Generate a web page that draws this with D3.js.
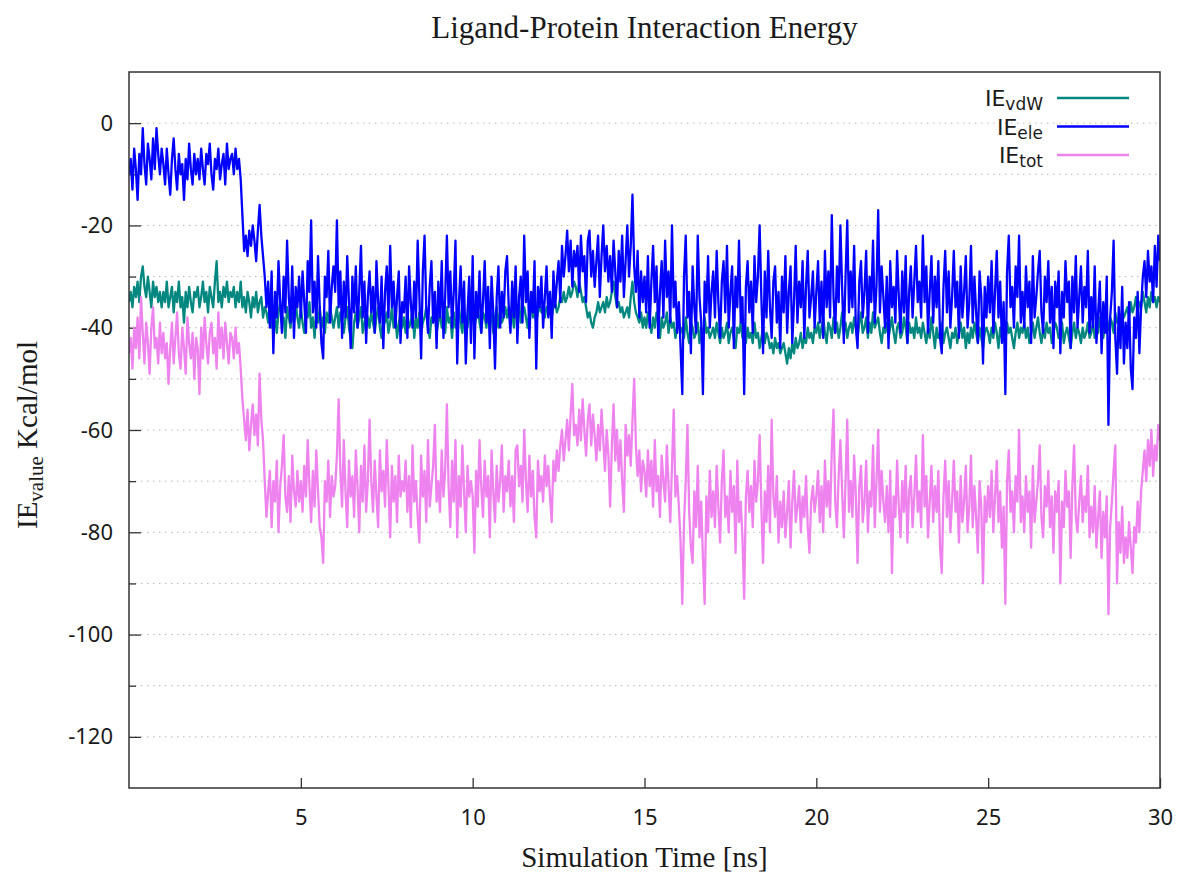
<!DOCTYPE html>
<html>
<head>
<meta charset="utf-8">
<script src="https://cdn.jsdelivr.net/npm/d3@7"></script>
<style>
  html, body { margin: 0; padding: 0; background: #fff; }
  svg { display: block; }
</style>
</head>
<body>
<svg id="chart" width="1178" height="879"></svg>
<script>
// ---- DATA (one row = 1 ns, step 0.05 ns) ----
const timeStepNs = 0.05;
const xTicks = [5, 10, 15, 20, 25, 30];
const yTicks = [0, -20, -40, -60, -80, -100, -120];
const yMinorTicks = [-10, -30, -50, -70, -90, -110];
const yGrid = [0, -10, -20, -30, -40, -50, -60, -70, -80, -90, -100, -110, -120];
const seriesNames = ["vdW", "ele", "tot"];

const ieVdw = [
-35,-33,-36,-32,-34,-31,-35,-30,-28,-32,-34,-30,-33,-36,-31,-34,-32,-35,-33,-36,
-33,-35,-31,-36,-34,-32,-37,-33,-35,-31,-36,-34,-39,-33,-36,-32,-35,-37,-33,-34,
-32,-36,-34,-31,-35,-33,-37,-32,-34,-36,-31,-27,-35,-33,-36,-32,-34,-31,-35,-33,
-34,-32,-36,-33,-35,-31,-36,-34,-37,-33,-35,-38,-34,-36,-33,-37,-35,-34,-38,-36,
-37,-39,-35,-40,-36,-38,-41,-37,-35,-39,-38,-42,-36,-38,-40,-37,-39,-35,-38,-40,
-36,-39,-41,-37,-38,-35,-40,-38,-42,-37,-39,-36,-40,-38,-41,-37,-39,-36,-38,-40,
-38,-36,-40,-37,-39,-41,-38,-36,-40,-42,-44,-39,-37,-40,-38,-36,-41,-39,-37,-38,
-40,-37,-39,-41,-38,-36,-40,-42,-38,-39,-37,-41,-39,-36,-40,-38,-42,-39,-37,-40,
-38,-41,-37,-40,-39,-36,-42,-38,-40,-37,-41,-39,-38,-36,-40,-42,-38,-39,-37,-41,
-39,-37,-40,-38,-41,-36,-39,-38,-42,-37,-40,-38,-36,-39,-41,-37,-38,-40,-36,-39,
-37,-40,-38,-36,-39,-41,-37,-38,-40,-36,-39,-37,-41,-38,-36,-40,-37,-39,-38,-36,
-38,-36,-39,-37,-40,-36,-38,-35,-39,-37,-36,-38,-40,-37,-35,-38,-36,-39,-37,-36,
-37,-35,-38,-36,-37,-34,-38,-36,-35,-37,-36,-34,-35,-33,-35,-34,-32,-34,-33,-31,
-32,-34,-31,-33,-35,-34,-36,-38,-37,-39,-40,-38,-37,-35,-37,-36,-35,-37,-34,-36,
-35,-33,-31,-34,-36,-35,-37,-36,-38,-37,-36,-38,-34,-31,-35,-37,-38,-39,-37,-40,
-38,-40,-37,-39,-41,-38,-40,-37,-39,-42,-38,-40,-39,-37,-41,-38,-40,-39,-42,-40,
-39,-41,-40,-42,-38,-41,-43,-39,-40,-42,-41,-39,-43,-40,-42,-38,-41,-40,-42,-41,
-40,-42,-39,-41,-43,-40,-42,-41,-39,-43,-41,-40,-42,-44,-40,-41,-39,-42,-41,-43,
-40,-42,-41,-43,-39,-42,-41,-44,-42,-40,-43,-41,-42,-44,-43,-45,-42,-44,-43,-45,
-44,-43,-45,-47,-44,-46,-43,-45,-42,-44,-43,-41,-44,-42,-43,-40,-42,-41,-43,-40,
-41,-39,-42,-40,-38,-41,-43,-39,-40,-42,-38,-41,-39,-42,-40,-37,-41,-39,-42,-40,
-39,-41,-38,-40,-42,-39,-37,-41,-40,-38,-42,-39,-41,-37,-40,-39,-38,-41,-43,-40,
-41,-39,-42,-40,-38,-41,-43,-40,-39,-42,-41,-38,-40,-43,-39,-41,-40,-42,-38,-41,
-40,-42,-39,-41,-43,-40,-42,-38,-41,-44,-40,-42,-41,-39,-43,-41,-40,-42,-44,-41,
-42,-40,-43,-41,-39,-42,-40,-44,-41,-43,-40,-42,-39,-41,-43,-40,-42,-44,-41,-40,
-41,-43,-40,-42,-39,-41,-44,-40,-42,-41,-43,-39,-41,-40,-42,-44,-41,-39,-42,-40,
-41,-39,-42,-40,-43,-41,-39,-42,-40,-38,-41,-43,-40,-42,-39,-41,-40,-43,-41,-39,
-40,-42,-41,-39,-43,-41,-40,-42,-44,-41,-39,-42,-40,-41,-43,-40,-42,-41,-39,-42,
-41,-39,-42,-40,-41,-38,-40,-42,-39,-41,-40,-38,-39,-41,-37,-39,-38,-40,-37,-38,
-37,-36,-38,-35,-37,-36,-34,-37,-35,-36,-33,-35,-37,-34,-36,-33,-35,-34,-36,-34,
-35];

const ieEle = [
-10,-7,-13,-5,-9,-15,-6,-10,-1,-8,-12,-4,-7,-11,-3,-9,-1,-6,-10,-5,
-8,-12,-5,-10,-14,-7,-3,-9,-13,-6,-10,-8,-15,-7,-11,-4,-9,-12,-6,-10,
-7,-11,-5,-9,-12,-6,-8,-4,-10,-13,-7,-9,-5,-11,-8,-6,-12,-4,-9,-7,
-6,-10,-5,-9,-7,-11,-18,-25,-22,-26,-21,-24,-20,-23,-27,-21,-16,-22,-26,-30,
-36,-31,-40,-29,-45,-33,-38,-27,-35,-41,-30,-37,-23,-34,-39,-28,-42,-32,-36,-30,
-38,-29,-35,-41,-27,-33,-19,-37,-31,-40,-26,-36,-43,-46,-30,-34,-25,-39,-32,-28,
-33,-19,-36,-29,-42,-31,-38,-26,-35,-44,-30,-37,-28,-40,-33,-24,-38,-31,-43,-34,
-29,-37,-32,-41,-27,-35,-39,-30,-44,-33,-28,-38,-24,-36,-31,-40,-34,-29,-43,-35,
-37,-30,-42,-28,-35,-40,-31,-38,-23,-34,-46,-29,-22,-36,-41,-32,-27,-39,-33,-44,
-31,-38,-27,-42,-34,-22,-36,-29,-40,-33,-23,-47,-35,-28,-39,-31,-47,-37,-30,-43,
-26,-46,-33,-38,-29,-41,-35,-27,-39,-32,-44,-30,-37,-48,-34,-28,-40,-33,-38,-29,
-26,-36,-41,-31,-38,-28,-43,-34,-30,-39,-22,-35,-29,-42,-33,-37,-27,-48,-32,-36,
-30,-40,-34,-28,-38,-33,-42,-29,-36,-31,-27,-35,-24,-30,-26,-21,-29,-23,-32,-25,
-28,-24,-33,-22,-29,-26,-35,-23,-21,-30,-25,-32,-27,-22,-34,-26,-20,-29,-24,-31,
-26,-33,-23,-29,-36,-25,-31,-22,-34,-27,-20,-30,-24,-14,-28,-33,-25,-38,-29,-35,
-30,-37,-26,-40,-31,-24,-35,-28,-42,-33,-27,-38,-23,-34,-29,-39,-20,-36,-31,-41,
-35,-44,-53,-30,-22,-38,-33,-45,-28,-36,-41,-22,-34,-39,-53,-31,-37,-26,-40,-33,
-29,-38,-25,-35,-42,-31,-27,-37,-24,-40,-33,-28,-44,-30,-36,-23,-39,-34,-53,-32,
-27,-37,-31,-41,-26,-35,-30,-20,-34,-45,-29,-38,-25,-36,-42,-31,-28,-39,-33,-44,
-30,-37,-26,-41,-33,-28,-43,-35,-24,-39,-31,-36,-27,-42,-32,-25,-38,-34,-29,-40,
-33,-27,-39,-31,-42,-25,-36,-29,-38,-18,-34,-41,-28,-35,-20,-32,-43,-30,-19,-37,
-29,-36,-24,-40,-44,-31,-27,-38,-33,-25,-41,-30,-35,-23,-39,-32,-17,-37,-28,-34,
-40,-30,-44,-27,-36,-32,-39,-25,-34,-41,-29,-37,-26,-43,-33,-28,-38,-31,-24,-35,
-31,-38,-22,-35,-28,-41,-33,-26,-39,-30,-36,-27,-42,-45,-32,-25,-37,-29,-40,-34,
-25,-36,-31,-42,-28,-38,-33,-26,-40,-35,-24,-39,-30,-37,-43,-29,-34,-47,-32,-38,
-30,-37,-27,-41,-33,-25,-38,-31,-43,-35,-53,-29,-22,-36,-32,-40,-28,-34,-22,-39,
-33,-40,-28,-36,-31,-43,-26,-38,-34,-29,-25,-37,-41,-30,-35,-27,-39,-32,-44,-31,
-36,-29,-45,-33,-38,-27,-35,-31,-44,-30,-37,-26,-40,-34,-28,-39,-32,-36,-25,-41,
-34,-40,-28,-43,-37,-31,-45,-35,-41,-30,-59,-38,-33,-23,-42,-49,-36,-44,-32,-47,
-39,-44,-35,-48,-52,-38,-42,-33,-45,-36,-30,-27,-34,-25,-31,-28,-35,-24,-32,-22,
-27];

const ieTot = [
-45,-42,-48,-40,-44,-38,-46,-34,-41,-47,-39,-43,-49,-40,-36,-44,-42,-47,-39,-45,
-41,-46,-43,-51,-44,-39,-47,-42,-37,-45,-48,-40,-44,-49,-38,-43,-46,-41,-50,-42,
-44,-53,-40,-46,-38,-43,-47,-41,-39,-45,-42,-48,-37,-44,-40,-46,-39,-43,-47,-41,
-42,-46,-40,-45,-43,-48,-54,-58,-62,-56,-64,-59,-55,-61,-57,-63,-49,-58,-62,-70,
-77,-72,-68,-79,-70,-74,-66,-80,-71,-67,-61,-73,-76,-69,-78,-65,-72,-75,-68,-74,
-70,-76,-67,-73,-62,-71,-78,-68,-75,-64,-72,-79,-81,-86,-70,-74,-66,-77,-69,-73,
-71,-65,-54,-68,-75,-62,-72,-79,-66,-73,-69,-77,-64,-71,-80,-67,-74,-63,-76,-70,
-58,-70,-76,-66,-73,-79,-64,-72,-68,-75,-62,-71,-81,-67,-74,-69,-78,-65,-73,-70,
-72,-66,-76,-69,-79,-63,-74,-70,-77,-82,-65,-73,-68,-78,-62,-75,-71,-67,-59,-74,
-70,-76,-64,-73,-68,-55,-71,-79,-66,-74,-62,-81,-69,-75,-63,-72,-80,-67,-73,-70,
-73,-84,-68,-75,-62,-71,-77,-66,-73,-69,-81,-64,-72,-78,-67,-74,-70,-63,-76,-69,
-72,-66,-75,-69,-78,-64,-63,-71,-67,-74,-60,-70,-76,-65,-73,-68,-77,-81,-66,-72,
-69,-74,-65,-71,-67,-73,-78,-66,-70,-64,-68,-63,-60,-66,-62,-58,-64,-57,-51,-61,
-59,-63,-56,-62,-54,-60,-65,-58,-55,-63,-57,-61,-66,-59,-64,-56,-62,-68,-60,-65,
-75,-63,-55,-66,-60,-68,-62,-70,-76,-59,-65,-61,-67,-58,-50,-63,-69,-64,-72,-66,
-68,-73,-64,-71,-66,-75,-62,-72,-69,-77,-65,-70,-74,-63,-71,-78,-67,-56,-73,-69,
-75,-82,-94,-78,-70,-59,-76,-83,-86,-72,-79,-67,-81,-74,-85,-94,-73,-80,-68,-77,
-72,-79,-67,-75,-82,-70,-64,-77,-73,-80,-68,-76,-71,-84,-66,-78,-74,-81,-93,-73,
-68,-76,-71,-79,-66,-74,-70,-61,-75,-86,-72,-78,-67,-80,-58,-73,-77,-69,-82,-74,
-79,-72,-81,-76,-70,-83,-74,-68,-78,-75,-71,-80,-73,-77,-69,-79,-84,-74,-71,-76,
-73,-68,-78,-71,-80,-66,-75,-70,-77,-64,-56,-74,-79,-69,-62,-72,-81,-70,-58,-76,
-70,-77,-65,-73,-86,-71,-67,-78,-74,-66,-80,-72,-75,-63,-79,-70,-60,-76,-68,-74,
-78,-71,-80,-68,-88,-73,-77,-66,-75,-81,-70,-76,-67,-82,-72,-69,-79,-73,-65,-76,
-72,-79,-61,-75,-69,-81,-74,-67,-78,-71,-76,-68,-83,-88,-73,-66,-77,-70,-80,-74,
-66,-76,-72,-82,-69,-78,-74,-67,-80,-75,-65,-79,-71,-77,-84,-70,-75,-90,-73,-78,
-71,-77,-68,-80,-73,-66,-78,-72,-83,-75,-94,-70,-64,-76,-72,-80,-69,-74,-60,-78,
-73,-80,-69,-76,-72,-83,-67,-78,-74,-70,-63,-77,-81,-71,-75,-68,-79,-73,-84,-72,
-76,-70,-90,-74,-79,-68,-75,-72,-85,-71,-63,-77,-80,-74,-69,-78,-73,-76,-67,-81,
-75,-80,-71,-83,-77,-72,-85,-76,-81,-73,-96,-79,-74,-68,-63,-90,-78,-84,-75,-86,
-81,-85,-78,-83,-88,-79,-82,-74,-80,-72,-68,-64,-70,-62,-67,-60,-69,-63,-66,-59,
-62];

const seriesColors = ["#00877f", "#0000ff", "#ee82ee"];

// ---- CHART ----
const svg = d3.select("#chart");
const margin = { left: 129, right: 18, top: 72, bottom: 91 };
const W = 1178, H = 879;
const x = d3.scaleLinear().domain([0, 30]).range([margin.left, W - margin.right]);
const y = d3.scaleLinear().domain([-130, 10]).range([H - margin.bottom, margin.top]);

const sans = "'Noto Sans', 'DejaVu Sans', sans-serif";
const legendFont = "'DejaVu Sans', sans-serif";
const serif = "'Liberation Serif', 'Times New Roman', serif";
const ink = "#1a1a1a";

// grid
svg.append("g").selectAll("line").data(yGrid).join("line")
  .attr("x1", x(0)).attr("x2", x(30))
  .attr("y1", d => y(d)).attr("y2", d => y(d))
  .attr("stroke", "#b8b8b8").attr("stroke-width", 1)
  .attr("stroke-dasharray", "1.5,4.5");

// y axis major
const yAxis = svg.append("g").attr("transform", `translate(${x(0)},0)`)
  .call(d3.axisLeft(y).tickValues(yTicks).tickSize(-12).tickPadding(16).tickFormat(d => String(d)));
yAxis.select(".domain").remove();
yAxis.selectAll("line").attr("stroke", "#333").attr("stroke-width", 1.3);
yAxis.selectAll("text").attr("font-family", sans).attr("font-size", 22).attr("fill", ink);

// y minor ticks
const yMinor = svg.append("g").attr("transform", `translate(${x(0)},0)`)
  .call(d3.axisLeft(y).tickValues(yMinorTicks).tickSize(-7).tickFormat(""));
yMinor.select(".domain").remove();
yMinor.selectAll("line").attr("stroke", "#333").attr("stroke-width", 1.3);

// x axis
const xAxis = svg.append("g").attr("transform", `translate(0,${y(-130)})`)
  .call(d3.axisBottom(x).tickValues(xTicks).tickSize(-10).tickPadding(21).tickFormat(d => String(d)));
xAxis.select(".domain").remove();
xAxis.selectAll("line").attr("stroke", "#333").attr("stroke-width", 1.3);
xAxis.selectAll("text").attr("font-family", sans).attr("font-size", 22).attr("fill", ink);

// lines
const allSeries = [ieVdw, ieEle, ieTot];
svg.append("clipPath").attr("id", "plotclip").append("rect")
  .attr("x", x(0)).attr("y", y(10)).attr("width", x(30) - x(0)).attr("height", y(-130) - y(10));
const line = d3.line().x((d, i) => x(i * timeStepNs)).y(d => y(d));
svg.append("g").attr("clip-path", "url(#plotclip)")
  .selectAll("path").data(allSeries).join("path")
  .attr("d", d => line(d))
  .attr("fill", "none")
  .attr("stroke", (d, i) => seriesColors[i])
  .attr("stroke-width", 2.3)
  .attr("stroke-linejoin", "round");

// border
svg.append("rect")
  .attr("x", x(0)).attr("y", y(10))
  .attr("width", x(30) - x(0)).attr("height", y(-130) - y(10))
  .attr("fill", "none").attr("stroke", "#333").attr("stroke-width", 1.5);

// legend
const leg = svg.append("g");
seriesNames.forEach((name, i) => {
  const ly = 98 + i * 28.5;
  const t = leg.append("text")
    .attr("x", 1043).attr("y", ly + 8)
    .attr("text-anchor", "end")
    .attr("font-family", legendFont).attr("font-size", 22).attr("fill", ink);
  t.append("tspan").text("IE");
  t.append("tspan").attr("font-size", 17).attr("dy", 4).text(name);
  leg.append("line")
    .attr("x1", 1057).attr("x2", 1129).attr("y1", ly).attr("y2", ly)
    .attr("stroke", seriesColors[i]).attr("stroke-width", 2.3);
});

// title
svg.append("text").attr("x", (x(0) + x(30)) / 2).attr("y", 38)
  .attr("text-anchor", "middle").attr("font-family", serif).attr("font-size", 31)
  .attr("fill", ink).text("Ligand-Protein Interaction Energy");

// x label
svg.append("text").attr("x", (x(0) + x(30)) / 2).attr("y", 867)
  .attr("text-anchor", "middle").attr("font-family", serif).attr("font-size", 29)
  .attr("fill", ink).text("Simulation Time [ns]");

// y label
const yl = svg.append("text")
  .attr("transform", `translate(37,${(y(10) + y(-130)) / 2 + 5}) rotate(-90)`)
  .attr("text-anchor", "middle").attr("font-family", serif).attr("font-size", 29).attr("fill", ink);
yl.append("tspan").text("IE");
yl.append("tspan").attr("font-size", 21).attr("dy", 6).text("value");
yl.append("tspan").attr("dy", -6).text(" Kcal/mol");
</script>
</body>
</html>
